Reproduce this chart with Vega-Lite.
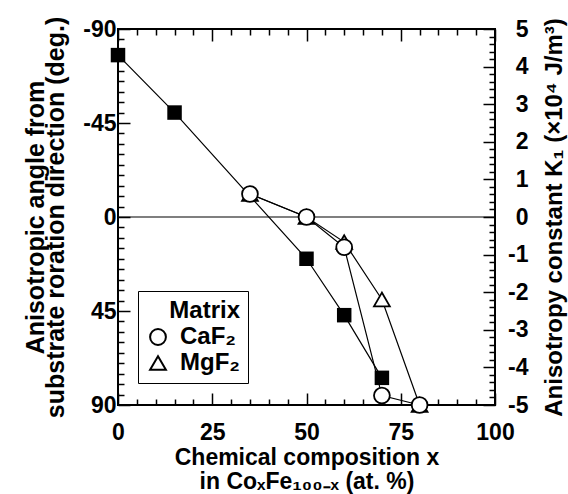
{
  "$schema": "https://vega.github.io/schema/vega-lite/v6.json",
  "width": 377,
  "height": 376,
  "autosize": {"type": "none"},
  "padding": {"left": 118, "top": 29, "right": 73, "bottom": 89},
  "background": "white",
  "config": {
    "view": {"stroke": "black", "strokeWidth": 2},
    "font": "Liberation Sans",
    "axis": {
      "domain": false,
      "grid": false,
      "tickColor": "black",
      "tickWidth": 1.5,
      "labelFont": "Liberation Sans",
      "labelFontSize": 23,
      "labelFontWeight": "bold",
      "labelColor": "black",
      "labelFlush": false,
      "labelOverlap": false,
      "titleFont": "Liberation Sans",
      "titleFontSize": 24,
      "titleFontWeight": "bold",
      "titleColor": "black"
    },
    "legend": {
      "titleFont": "Liberation Sans",
      "labelFont": "Liberation Sans"
    }
  },
  "datasets": {
    "pts": [
      {"x": 0, "angle": -77.5, "type": "square"},
      {"x": 15, "angle": -50, "type": "square"},
      {"x": 50, "angle": 20, "type": "square"},
      {"x": 60, "angle": 47, "type": "square"},
      {"x": 70, "angle": 77, "type": "square"},
      {"x": 35, "angle": -11, "type": "MgF₂"},
      {"x": 50, "angle": 0, "type": "MgF₂"},
      {"x": 60, "angle": 12, "type": "MgF₂"},
      {"x": 70, "angle": 39.5, "type": "MgF₂"},
      {"x": 80, "angle": 90, "type": "MgF₂"},
      {"x": 35, "angle": -11, "type": "CaF₂"},
      {"x": 50, "angle": 0, "type": "CaF₂"},
      {"x": 60, "angle": 14.5, "type": "CaF₂"},
      {"x": 70, "angle": 85.5, "type": "CaF₂"},
      {"x": 80, "angle": 90, "type": "CaF₂"}
    ],
    "zero": [{"k": 0}]
  },
  "layer": [
    {
      "data": {"name": "zero"},
      "layer": [
        {
          "mark": {"type": "rule", "color": "black", "strokeWidth": 1.2},
          "encoding": {
            "y": {
              "field": "k",
              "type": "quantitative",
              "scale": {"domain": [-5, 5], "nice": false, "zero": false},
              "axis": {
                "orient": "right",
                "values": [-5,-4,-3,-2,-1,0,1,2,3,4,5],
                "labelExpr": "'' + datum.value",
                "offset": -12,
                "tickSize": 12,
                "labelAlign": "right",
                "labelPadding": 33,
                "title": "Anisotropy constant K₁ (×10⁴ J/m³)",
                "titleAngle": 270,
                "titleAlign": "center",
                "titleBaseline": "middle",
                "titleX": 71,
                "titleY": 188
              }
            }
          }
        },
        {
          "mark": {"type": "rule", "opacity": 0},
          "encoding": {
            "y": {
              "field": "k",
              "type": "quantitative",
              "axis": {
                "orient": "right",
                "values": [-4.8,-4.6,-4.4,-4.2,-3.8,-3.6,-3.4,-3.2,-2.8,-2.6,-2.4,-2.2,-1.8,-1.6,-1.4,-1.2,-0.8,-0.6,-0.4,-0.2,0.2,0.4,0.6,0.8,1.2,1.4,1.6,1.8,2.2,2.4,2.6,2.8,3.2,3.4,3.6,3.8,4.2,4.4,4.6,4.8],
                "labels": false,
                "title": null,
                "offset": -6,
                "tickSize": 6
              }
            }
          }
        }
      ],
      "resolve": {"axis": {"y": "independent"}}
    },
    {
      "data": {"name": "pts"},
      "layer": [
        {
          "mark": {"type": "line", "color": "black", "strokeWidth": 1.2},
          "encoding": {
            "x": {
              "field": "x",
              "type": "quantitative",
              "scale": {"domain": [0, 100], "nice": false, "zero": false},
              "axis": {
                "orient": "bottom",
                "values": [0, 25, 50, 75, 100],
                "labelExpr": "'' + datum.value",
                "offset": -12,
                "tickSize": 12,
                "labelPadding": 16,
                "title": ["Chemical composition  x", "in CoₓFe₁₀₀₋ₓ (at. %)"],
                "titleFontSize": 23,
                "titleLineHeight": 24,
                "titlePadding": 2
              }
            },
            "y": {
              "field": "angle",
              "type": "quantitative",
              "scale": {"domain": [-90, 90], "reverse": true, "nice": false, "zero": false},
              "axis": {
                "orient": "left",
                "values": [-90, -45, 0, 45, 90],
                "labelExpr": "'' + datum.value",
                "offset": -12,
                "tickSize": 12,
                "labelPadding": 2,
                "title": ["Anisotropic angle from", "substrate roration direction (deg.)"],
                "titleFontSize": 25,
                "titleLineHeight": 20,
                "titlePadding": 14
              }
            },
            "detail": {"field": "type"}
          }
        },
        {
          "transform": [{"filter": "datum.type !== 'square'"}],
          "mark": {"type": "point", "filled": false, "fill": "white", "stroke": "black", "strokeWidth": 1.8, "opacity": 1, "size": 250},
          "encoding": {
            "x": {
              "field": "x",
              "type": "quantitative",
              "axis": {
                "orient": "bottom",
                "values": [5,10,15,20,30,35,40,45,55,60,65,70,80,85,90,95],
                "labels": false,
                "title": null,
                "offset": -6,
                "tickSize": 6
              }
            },
            "y": {
              "field": "angle",
              "type": "quantitative",
              "axis": {
                "orient": "left",
                "values": [-85,-80,-75,-70,-65,-60,-55,-50,-40,-35,-30,-25,-20,-15,-10,-5,5,10,15,20,25,30,35,40,50,55,60,65,70,75,80,85],
                "labels": false,
                "title": null,
                "offset": -6,
                "tickSize": 6
              }
            },
            "shape": {
              "field": "type",
              "type": "nominal",
              "scale": {"domain": ["CaF₂", "MgF₂"], "range": ["circle", "triangle-up"]},
              "legend": {
                "orient": "none",
                "legendX": 20,
                "legendY": 262,
                "title": "Matrix",
                "titleAnchor": "end",
                "titleFontSize": 24,
                "titleFontWeight": "bold",
                "titleColor": "black",
                "titlePadding": 2,
                "labelFontSize": 24,
                "labelFontWeight": "bold",
                "labelColor": "black",
                "labelOffset": 10,
                "rowPadding": 2,
                "symbolSize": 250,
                "symbolStrokeWidth": 2,
                "strokeColor": "black",
                "padding": 8
              }
            }
          }
        },
        {
          "transform": [{"filter": "datum.type === 'square'"}],
          "mark": {"type": "point", "shape": "square", "filled": true, "color": "black", "opacity": 1, "size": 210},
          "encoding": {
            "x": {
              "field": "x",
              "type": "quantitative",
              "axis": {
                "orient": "top",
                "values": [0, 25, 50, 75, 100],
                "labels": false,
                "title": null,
                "offset": -12,
                "tickSize": 12
              }
            },
            "y": {"field": "angle", "type": "quantitative", "axis": null}
          }
        },
        {
          "mark": {"type": "point", "opacity": 0},
          "encoding": {
            "x": {
              "field": "x",
              "type": "quantitative",
              "axis": {
                "orient": "top",
                "values": [5,10,15,20,30,35,40,45,55,60,65,70,80,85,90,95],
                "labels": false,
                "title": null,
                "offset": -6,
                "tickSize": 6
              }
            },
            "y": {"field": "angle", "type": "quantitative", "axis": null}
          }
        }
      ],
      "resolve": {"axis": {"x": "independent", "y": "independent"}}
    }
  ],
  "resolve": {"scale": {"y": "independent"}}
}
